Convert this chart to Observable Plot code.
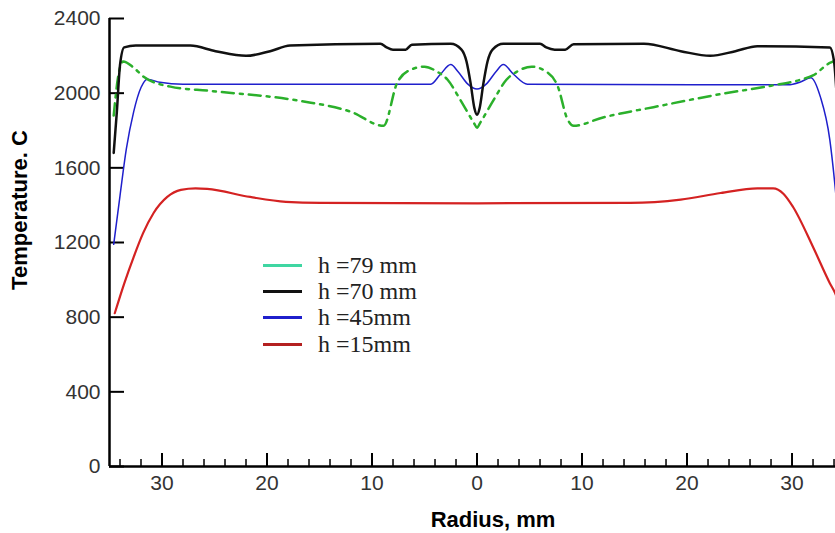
<!DOCTYPE html>
<html>
<head>
<meta charset="utf-8">
<script src="https://cdn.jsdelivr.net/npm/d3@7"></script>
<script src="https://cdn.jsdelivr.net/npm/@observablehq/plot@0.6"></script>
<style>
  html, body { margin: 0; padding: 0; background: #fff; overflow: hidden; }
  #wrap { position: relative; width: 835px; height: 533px; }
  .title { position: absolute; font: bold 22px "Liberation Sans", Arial, sans-serif; color: #000; white-space: nowrap; }
  #ytitle { left: 20px; top: 210px; transform: translate(-50%, -50%) rotate(-90deg); }
  #xtitle { left: 493px; top: 520px; transform: translate(-50%, -50%); }
  #legend { position: absolute; left: 263px; top: 252px; font: 24px "Liberation Serif", "Times New Roman", serif; color: #222; }
  #legend .row { display: flex; align-items: center; height: 26.3px; }
  #legend .swatch { width: 39px; height: 3px; margin-right: 16px; }
</style>
</head>
<body>
<div id="wrap">
  <div id="chart"></div>
  <div class="title" id="ytitle">Temperature. C</div>
  <div class="title" id="xtitle">Radius, mm</div>
  <div id="legend"></div>
</div>
<script>
// Radial temperature profiles at four heights (radius in mm, temperature in C)
const r79 = [-34.6, -34.2, -33.7, -32.7, -31.8, -29.2, -25.4, -16.8, -12.0, -8.9, -7.6, -6.3, -5.0, -3.8, -2.8, -1.6, -0.3, 0, 0.3, 1.6, 2.8, 3.8, 5.2, 6.6, 7.7, 8.6, 9.2, 12.0, 16.8, 23.2, 28.0, 30.8, 32.0, 33.7, 34.3, 34.6];
const t79 = [1880, 2080, 2170, 2137, 2090, 2035, 2012, 1958, 1900, 1825, 2056, 2126, 2142, 2115, 2072, 1965, 1841, 1815, 1841, 1965, 2072, 2115, 2142, 2115, 2035, 1862, 1825, 1870, 1925, 1995, 2040, 2072, 2095, 2165, 2175, 2050];

const r70 = [-34.6, -34.3, -34.0, -33.6, -32.5, -27.3, -24.9, -22.0, -19.7, -17.8, -9.2, -8.6, -8.0, -6.8, -6.2, -2.5, -1.5, -1.0, -0.6, -0.25, 0, 0.25, 0.6, 1.0, 1.5, 2.5, 6.0, 6.6, 7.4, 8.4, 9.2, 15.9, 19.4, 22.2, 24.6, 26.7, 33.6, 34.0, 34.3, 34.6];
const t70 = [1680, 1900, 2150, 2245, 2255, 2255, 2225, 2200, 2225, 2255, 2265, 2245, 2233, 2233, 2260, 2265, 2235, 2170, 2050, 1920, 1885, 1920, 2050, 2170, 2235, 2265, 2265, 2245, 2233, 2233, 2262, 2265, 2225, 2200, 2225, 2252, 2245, 2170, 1950, 1700];

const r45 = [-34.6, -34.0, -33.4, -32.7, -32.0, -31.4, -30.2, -28.0, -4.4, -3.5, -2.5, -1.8, -0.9, 0, 0.9, 1.8, 2.5, 3.5, 4.8, 29.6, 30.8, 31.8, 32.7, 33.6, 34.1, 34.6];
const t45 = [1190, 1450, 1700, 1900, 2030, 2075, 2058, 2048, 2048, 2100, 2153, 2115, 2050, 2022, 2050, 2115, 2153, 2100, 2048, 2045, 2060, 2083, 1980, 1750, 1500, 1180];

const r15 = [-34.5, -33.6, -32.7, -31.8, -30.8, -29.5, -28.2, -26.8, -25.7, -21.6, -18.2, -14.9, 0, 14.6, 19.4, 23.2, 26.7, 28.2, 29.2, 30.1, 32.0, 33.6, 34.1, 34.6];
const t15 = [821, 980, 1122, 1250, 1358, 1444, 1482, 1490, 1487, 1444, 1418, 1412, 1410, 1412, 1430, 1465, 1490, 1490, 1460, 1390, 1176, 982, 929, 850];

const seriesLabels = ["h =79 mm", "h =70 mm", "h =45mm", "h =15mm"];
const lineColors   = ["#2bb02b", "#111111", "#1f1fcc", "#d42222"];
const legendColors = ["#3fd6a2", "#111111", "#1f1fcc", "#b42020"];

const yTicks = [0, 400, 800, 1200, 1600, 2000, 2400];
const xMajor = [-30, -20, -10, 0, 10, 20, 30];
const xMinor = d3.range(-34, 35, 2).filter(v => v % 10 !== 0);

const pts = (rs, ts) => rs.map((r, i) => ({r, t: ts[i]}));
const d79 = pts(r79, t79), d70 = pts(r70, t70), d45 = pts(r45, t45), d15 = pts(r15, t15);

// frame geometry, used to convert inward tick lengths from pixels to data units
const W = 835, H = 533, mL = 109, mR = 0, mT = 18, mB = 67;
const xDomain = [-35, 34.14], yDomain = [0, 2400];
const pxX = (W - mL - mR) / (xDomain[1] - xDomain[0]);
const pxY = (H - mT - mB) / (yDomain[1] - yDomain[0]);

const tickFont = {fontSize: 21, fill: "#333"};

const chart = Plot.plot({
  width: W,
  height: H,
  marginLeft: mL,
  marginRight: mR,
  marginTop: mT,
  marginBottom: mB,
  style: {fontFamily: "'Liberation Sans', Arial, sans-serif", background: "#fff"},
  x: {domain: xDomain},
  y: {domain: yDomain},
  marks: [
    Plot.axisY({ticks: yTicks, tickSize: 0, tickPadding: 9, tickFormat: d => String(d), label: null, ...tickFont}),
    Plot.axisX({ticks: xMajor, tickSize: 0, tickPadding: 9, tickFormat: d => String(Math.abs(d)), label: null, ...tickFont}),
    // inward tick marks
    Plot.ruleY(yTicks, {y: d => d, x1: xDomain[0], x2: xDomain[0] + 15 / pxX, stroke: "#000", strokeWidth: 2}),
    Plot.ruleX(xMinor, {x: d => d, y1: 0, y2: 7 / pxY, stroke: "#000", strokeWidth: 1.5}),
    Plot.ruleX(xMajor, {x: d => d, y1: 0, y2: 13 / pxY, stroke: "#000", strokeWidth: 2}),
    Plot.line(d15, {x: "r", y: "t", stroke: lineColors[3], strokeWidth: 2.2, curve: "monotone-x", clip: true}),
    Plot.line(d45, {x: "r", y: "t", stroke: lineColors[2], strokeWidth: 1.5, curve: "monotone-x", clip: true}),
    Plot.line(d79, {x: "r", y: "t", stroke: lineColors[0], strokeWidth: 2.5, strokeDasharray: "12,6,3,6", curve: "monotone-x", clip: true}),
    Plot.line(d70, {x: "r", y: "t", stroke: lineColors[1], strokeWidth: 2.5, curve: "monotone-x", clip: true}),
    Plot.ruleX([xDomain[0]], {stroke: "#000", strokeWidth: 2.5}),
    Plot.ruleY([0], {stroke: "#000", strokeWidth: 2.5})
  ]
});
document.getElementById("chart").append(chart);

const legend = document.getElementById("legend");
seriesLabels.forEach((label, i) => {
  const row = document.createElement("div");
  row.className = "row";
  const sw = document.createElement("span");
  sw.className = "swatch";
  sw.style.background = legendColors[i];
  const tx = document.createElement("span");
  tx.textContent = label;
  row.append(sw, tx);
  legend.append(row);
});
</script>
</body>
</html>
